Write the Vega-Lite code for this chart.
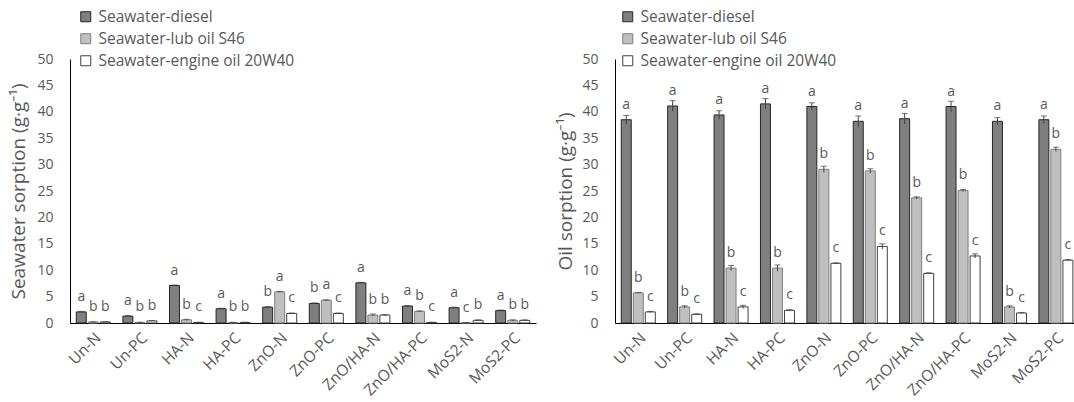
{
  "$schema": "https://vega.github.io/schema/vega-lite/v6.json",
  "background": "white",
  "padding": {"left": 9, "top": 9, "right": 0, "bottom": 0},
  "config": {
    "view": {"stroke": null},
    "font": "Open Sans",
    "axis": {"domainColor": "#000000", "domainWidth": 1, "ticks": false, "grid": false, "labelColor": "#595959", "titleColor": "#595959", "labelFont": "Open Sans", "titleFont": "Open Sans", "labelFontSize": 14, "titleFontSize": 19, "titleFontWeight": "normal", "labelOverlap": false},
    "legend": {"orient": "none", "direction": "vertical", "symbolType": "square", "symbolSize": 100, "symbolStrokeWidth": 1, "labelFont": "Open Sans", "labelFontSize": 15.5, "labelColor": "#595959", "labelOffset": 5, "rowPadding": 5, "labelLimit": 400, "title": null}
  },
  "datasets": {
    "seawater": [
      {"sample": "Un-N", "series": "Seawater-diesel", "value": 2.1, "low": 2.0, "high": 2.2, "letter": "a"},
      {"sample": "Un-N", "series": "Seawater-lub oil S46", "value": 0.2, "low": 0.15, "high": 0.25, "letter": "b"},
      {"sample": "Un-N", "series": "Seawater-engine oil 20W40", "value": 0.2, "low": 0.15, "high": 0.25, "letter": "b"},
      {"sample": "Un-PC", "series": "Seawater-diesel", "value": 1.3, "low": 1.2, "high": 1.4, "letter": "a"},
      {"sample": "Un-PC", "series": "Seawater-lub oil S46", "value": 0.1, "low": 0.05, "high": 0.15, "letter": "b"},
      {"sample": "Un-PC", "series": "Seawater-engine oil 20W40", "value": 0.4, "low": 0.35, "high": 0.45, "letter": "b"},
      {"sample": "HA-N", "series": "Seawater-diesel", "value": 7.1, "low": 7.0, "high": 7.2, "letter": "a"},
      {"sample": "HA-N", "series": "Seawater-lub oil S46", "value": 0.6, "low": 0.5, "high": 0.7, "letter": "b"},
      {"sample": "HA-N", "series": "Seawater-engine oil 20W40", "value": 0.1, "low": 0.05, "high": 0.15, "letter": "c"},
      {"sample": "HA-PC", "series": "Seawater-diesel", "value": 2.7, "low": 2.6, "high": 2.8, "letter": "a"},
      {"sample": "HA-PC", "series": "Seawater-lub oil S46", "value": 0.1, "low": 0.05, "high": 0.15, "letter": "b"},
      {"sample": "HA-PC", "series": "Seawater-engine oil 20W40", "value": 0.1, "low": 0.05, "high": 0.15, "letter": "b"},
      {"sample": "ZnO-N", "series": "Seawater-diesel", "value": 3.0, "low": 2.9, "high": 3.1, "letter": "b"},
      {"sample": "ZnO-N", "series": "Seawater-lub oil S46", "value": 5.9, "low": 5.8, "high": 6.0, "letter": "a"},
      {"sample": "ZnO-N", "series": "Seawater-engine oil 20W40", "value": 1.8, "low": 1.7, "high": 1.9, "letter": "c"},
      {"sample": "ZnO-PC", "series": "Seawater-diesel", "value": 3.7, "low": 3.6, "high": 3.8, "letter": "b"},
      {"sample": "ZnO-PC", "series": "Seawater-lub oil S46", "value": 4.3, "low": 4.2, "high": 4.4, "letter": "a"},
      {"sample": "ZnO-PC", "series": "Seawater-engine oil 20W40", "value": 1.8, "low": 1.7, "high": 1.9, "letter": "c"},
      {"sample": "ZnO/HA-N", "series": "Seawater-diesel", "value": 7.6, "low": 7.5, "high": 7.7, "letter": "a"},
      {"sample": "ZnO/HA-N", "series": "Seawater-lub oil S46", "value": 1.5, "low": 1.3, "high": 1.7, "letter": "b"},
      {"sample": "ZnO/HA-N", "series": "Seawater-engine oil 20W40", "value": 1.5, "low": 1.4, "high": 1.6, "letter": "b"},
      {"sample": "ZnO/HA-PC", "series": "Seawater-diesel", "value": 3.2, "low": 3.1, "high": 3.3, "letter": "a"},
      {"sample": "ZnO/HA-PC", "series": "Seawater-lub oil S46", "value": 2.2, "low": 2.1, "high": 2.3, "letter": "b"},
      {"sample": "ZnO/HA-PC", "series": "Seawater-engine oil 20W40", "value": 0.1, "low": 0.05, "high": 0.15, "letter": "c"},
      {"sample": "MoS2-N", "series": "Seawater-diesel", "value": 2.9, "low": 2.8, "high": 3.0, "letter": "a"},
      {"sample": "MoS2-N", "series": "Seawater-lub oil S46", "value": 0.05, "low": 0.02, "high": 0.08, "letter": "c"},
      {"sample": "MoS2-N", "series": "Seawater-engine oil 20W40", "value": 0.5, "low": 0.4, "high": 0.6, "letter": "b"},
      {"sample": "MoS2-PC", "series": "Seawater-diesel", "value": 2.35, "low": 2.25, "high": 2.45, "letter": "a"},
      {"sample": "MoS2-PC", "series": "Seawater-lub oil S46", "value": 0.5, "low": 0.4, "high": 0.6, "letter": "b"},
      {"sample": "MoS2-PC", "series": "Seawater-engine oil 20W40", "value": 0.5, "low": 0.4, "high": 0.6, "letter": "b"}
    ],
    "oil": [
      {"sample": "Un-N", "series": "Seawater-diesel", "value": 38.5, "low": 37.7, "high": 39.3, "letter": "a"},
      {"sample": "Un-N", "series": "Seawater-lub oil S46", "value": 5.7, "low": 5.6, "high": 5.8, "letter": "b"},
      {"sample": "Un-N", "series": "Seawater-engine oil 20W40", "value": 2.1, "low": 2.0, "high": 2.2, "letter": "c"},
      {"sample": "Un-PC", "series": "Seawater-diesel", "value": 41.1, "low": 40.1, "high": 42.1, "letter": "a"},
      {"sample": "Un-PC", "series": "Seawater-lub oil S46", "value": 3.05, "low": 2.85, "high": 3.25, "letter": "b"},
      {"sample": "Un-PC", "series": "Seawater-engine oil 20W40", "value": 1.65, "low": 1.55, "high": 1.75, "letter": "c"},
      {"sample": "HA-N", "series": "Seawater-diesel", "value": 39.4, "low": 38.6, "high": 40.2, "letter": "a"},
      {"sample": "HA-N", "series": "Seawater-lub oil S46", "value": 10.4, "low": 9.9, "high": 10.9, "letter": "b"},
      {"sample": "HA-N", "series": "Seawater-engine oil 20W40", "value": 3.05, "low": 2.75, "high": 3.35, "letter": "c"},
      {"sample": "HA-PC", "series": "Seawater-diesel", "value": 41.5, "low": 40.5, "high": 42.5, "letter": "a"},
      {"sample": "HA-PC", "series": "Seawater-lub oil S46", "value": 10.4, "low": 9.8, "high": 11.0, "letter": "b"},
      {"sample": "HA-PC", "series": "Seawater-engine oil 20W40", "value": 2.4, "low": 2.3, "high": 2.5, "letter": "c"},
      {"sample": "ZnO-N", "series": "Seawater-diesel", "value": 41.0, "low": 40.3, "high": 41.7, "letter": "a"},
      {"sample": "ZnO-N", "series": "Seawater-lub oil S46", "value": 29.1, "low": 28.5, "high": 29.7, "letter": "b"},
      {"sample": "ZnO-N", "series": "Seawater-engine oil 20W40", "value": 11.3, "low": 11.2, "high": 11.4, "letter": "c"},
      {"sample": "ZnO-PC", "series": "Seawater-diesel", "value": 38.2, "low": 37.2, "high": 39.2, "letter": "a"},
      {"sample": "ZnO-PC", "series": "Seawater-lub oil S46", "value": 28.8, "low": 28.4, "high": 29.2, "letter": "b"},
      {"sample": "ZnO-PC", "series": "Seawater-engine oil 20W40", "value": 14.5, "low": 14.0, "high": 15.0, "letter": "c"},
      {"sample": "ZnO/HA-N", "series": "Seawater-diesel", "value": 38.7, "low": 37.7, "high": 39.7, "letter": "a"},
      {"sample": "ZnO/HA-N", "series": "Seawater-lub oil S46", "value": 23.7, "low": 23.5, "high": 23.9, "letter": "b"},
      {"sample": "ZnO/HA-N", "series": "Seawater-engine oil 20W40", "value": 9.4, "low": 9.3, "high": 9.5, "letter": "c"},
      {"sample": "ZnO/HA-PC", "series": "Seawater-diesel", "value": 41.0, "low": 40.0, "high": 42.0, "letter": "a"},
      {"sample": "ZnO/HA-PC", "series": "Seawater-lub oil S46", "value": 25.1, "low": 24.9, "high": 25.3, "letter": "b"},
      {"sample": "ZnO/HA-PC", "series": "Seawater-engine oil 20W40", "value": 12.7, "low": 12.3, "high": 13.1, "letter": "c"},
      {"sample": "MoS2-N", "series": "Seawater-diesel", "value": 38.2, "low": 37.5, "high": 38.9, "letter": "a"},
      {"sample": "MoS2-N", "series": "Seawater-lub oil S46", "value": 3.05, "low": 2.85, "high": 3.25, "letter": "b"},
      {"sample": "MoS2-N", "series": "Seawater-engine oil 20W40", "value": 1.9, "low": 1.8, "high": 2.0, "letter": "c"},
      {"sample": "MoS2-PC", "series": "Seawater-diesel", "value": 38.5, "low": 37.8, "high": 39.2, "letter": "a"},
      {"sample": "MoS2-PC", "series": "Seawater-lub oil S46", "value": 32.9, "low": 32.5, "high": 33.3, "letter": "b"},
      {"sample": "MoS2-PC", "series": "Seawater-engine oil 20W40", "value": 11.9, "low": 11.8, "high": 12.0, "letter": "c"}
    ]
  },
  "spacing": 20,
  "resolve": {"legend": {"fill": "independent", "stroke": "independent"}},
  "hconcat": [
    {
      "width": 466,
      "height": 264,
      "data": {"name": "seawater"},
      "encoding": {
        "x": {"field": "sample", "type": "nominal", "sort": ["Un-N", "Un-PC", "HA-N", "HA-PC", "ZnO-N", "ZnO-PC", "ZnO/HA-N", "ZnO/HA-PC", "MoS2-N", "MoS2-PC"], "scale": {"paddingInner": 0.27, "paddingOuter": 0.135}, "axis": {"title": null, "labelAngle": -45, "labelPadding": 7, "labelFontSize": 15.5}},
        "xOffset": {"field": "series", "type": "nominal", "sort": ["Seawater-diesel", "Seawater-lub oil S46", "Seawater-engine oil 20W40"], "scale": {"paddingInner": 0.17, "paddingOuter": 0}}
      },
      "layer": [
        {
          "mark": {"type": "bar", "strokeWidth": 1},
          "encoding": {
            "y": {"field": "value", "type": "quantitative", "scale": {"domain": [0, 50]}, "axis": {"values": [0, 5, 10, 15, 20, 25, 30, 35, 40, 45, 50], "labelOverlap": false, "title": "Seawater sorption (g·g⁻¹)", "labelPadding": 17, "titlePadding": 8}},
            "fill": {"field": "series", "type": "nominal", "scale": {"domain": ["Seawater-diesel", "Seawater-lub oil S46", "Seawater-engine oil 20W40"], "range": ["#7f7f7f", "#bfbfbf", "#ffffff"]}, "legend": {"legendX": 8, "legendY": -50}},
            "stroke": {"field": "series", "type": "nominal", "scale": {"domain": ["Seawater-diesel", "Seawater-lub oil S46", "Seawater-engine oil 20W40"], "range": ["#262626", "#7f7f7f", "#404040"]}, "legend": {"legendX": 8, "legendY": -50}}
          }
        },
        {
          "mark": {"type": "rule", "color": "#404040", "strokeWidth": 1},
          "encoding": {"y": {"field": "low", "type": "quantitative", "axis": {"values": [0, 5, 10, 15, 20, 25, 30, 35, 40, 45, 50], "labelOverlap": false, "title": "Seawater sorption (g·g⁻¹)", "labelPadding": 17, "titlePadding": 8}}, "y2": {"field": "high"}}
        },
        {
          "mark": {"type": "tick", "orient": "horizontal", "color": "#404040", "size": 6, "thickness": 1},
          "encoding": {"y": {"field": "high", "type": "quantitative", "axis": {"values": [0, 5, 10, 15, 20, 25, 30, 35, 40, 45, 50], "labelOverlap": false, "title": "Seawater sorption (g·g⁻¹)", "labelPadding": 17, "titlePadding": 8}}}
        },
        {
          "mark": {"type": "text", "baseline": "middle", "align": "center", "dy": -15, "fontSize": 14, "color": "#595959", "font": "Open Sans"},
          "encoding": {"y": {"field": "value", "type": "quantitative", "axis": {"values": [0, 5, 10, 15, 20, 25, 30, 35, 40, 45, 50], "labelOverlap": false, "title": "Seawater sorption (g·g⁻¹)", "labelPadding": 17, "titlePadding": 8}}, "text": {"field": "letter"}}
        }
      ]
    },
    {
      "width": 464,
      "height": 264,
      "data": {"name": "oil"},
      "encoding": {
        "x": {"field": "sample", "type": "nominal", "sort": ["Un-N", "Un-PC", "HA-N", "HA-PC", "ZnO-N", "ZnO-PC", "ZnO/HA-N", "ZnO/HA-PC", "MoS2-N", "MoS2-PC"], "scale": {"paddingInner": 0.27, "paddingOuter": 0.135}, "axis": {"title": null, "labelAngle": -45, "labelPadding": 7, "labelFontSize": 15.5}},
        "xOffset": {"field": "series", "type": "nominal", "sort": ["Seawater-diesel", "Seawater-lub oil S46", "Seawater-engine oil 20W40"], "scale": {"paddingInner": 0.17, "paddingOuter": 0}}
      },
      "layer": [
        {
          "mark": {"type": "bar", "strokeWidth": 1},
          "encoding": {
            "y": {"field": "value", "type": "quantitative", "scale": {"domain": [0, 50]}, "axis": {"values": [0, 5, 10, 15, 20, 25, 30, 35, 40, 45, 50], "labelOverlap": false, "title": "Oil  sorption (g·g⁻¹)", "labelPadding": 17, "titlePadding": 6}},
            "fill": {"field": "series", "type": "nominal", "scale": {"domain": ["Seawater-diesel", "Seawater-lub oil S46", "Seawater-engine oil 20W40"], "range": ["#7f7f7f", "#bfbfbf", "#ffffff"]}, "legend": {"legendX": 5, "legendY": -50}},
            "stroke": {"field": "series", "type": "nominal", "scale": {"domain": ["Seawater-diesel", "Seawater-lub oil S46", "Seawater-engine oil 20W40"], "range": ["#262626", "#7f7f7f", "#404040"]}, "legend": {"legendX": 5, "legendY": -50}}
          }
        },
        {
          "mark": {"type": "rule", "color": "#404040", "strokeWidth": 1},
          "encoding": {"y": {"field": "low", "type": "quantitative", "axis": {"values": [0, 5, 10, 15, 20, 25, 30, 35, 40, 45, 50], "labelOverlap": false, "title": "Oil  sorption (g·g⁻¹)", "labelPadding": 17, "titlePadding": 6}}, "y2": {"field": "high"}}
        },
        {
          "mark": {"type": "tick", "orient": "horizontal", "color": "#404040", "size": 6, "thickness": 1},
          "encoding": {"y": {"field": "high", "type": "quantitative", "axis": {"values": [0, 5, 10, 15, 20, 25, 30, 35, 40, 45, 50], "labelOverlap": false, "title": "Oil  sorption (g·g⁻¹)", "labelPadding": 17, "titlePadding": 6}}}
        },
        {
          "mark": {"type": "text", "baseline": "middle", "align": "center", "dy": -15, "fontSize": 14, "color": "#595959", "font": "Open Sans"},
          "encoding": {"y": {"field": "value", "type": "quantitative", "axis": {"values": [0, 5, 10, 15, 20, 25, 30, 35, 40, 45, 50], "labelOverlap": false, "title": "Oil  sorption (g·g⁻¹)", "labelPadding": 17, "titlePadding": 6}}, "text": {"field": "letter"}}
        }
      ]
    }
  ]
}
